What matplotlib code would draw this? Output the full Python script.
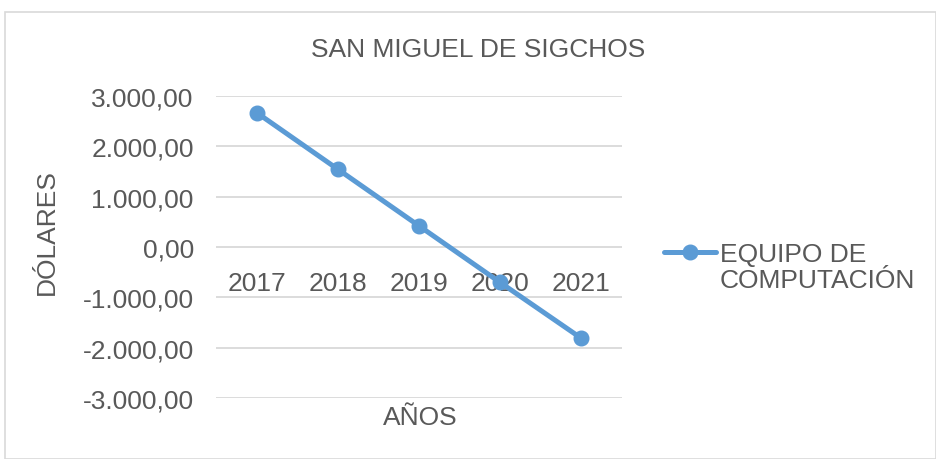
import matplotlib.pyplot as plt
from matplotlib.lines import Line2D
from matplotlib.patches import Rectangle
from matplotlib.ticker import FuncFormatter

years = ['2017', '2018', '2019', '2020', '2021']
equipo = [2670, 1545, 420, -705, -1815]
serie = 'EQUIPO DE\nCOMPUTACIÓN'

azul = '#5B9BD5'
gris = '#595959'
plt.rcParams['font.family'] = ['Liberation Sans', 'DejaVu Sans']
plt.rcParams['axes.unicode_minus'] = False

fig = plt.figure(figsize=(9.36, 4.6), dpi=100)
ax = fig.add_axes([216 / 936, 1 - 399 / 460, 406 / 936, 302 / 460])

x = list(range(len(years)))
ax.plot(x, equipo, color=azul, lw=3.6, marker='o', ms=10.5, solid_capstyle='round')

ax.set_xlim(-0.5, len(years) - 0.5)
ax.set_ylim(-3000, 3000)
ax.set_yticks(range(-3000, 3001, 1000))


def fmt(v, pos):
    s = f'{abs(v):,.2f}'.replace(',', 'X').replace('.', ',').replace('X', '.')
    return ('-' if v < 0 else '') + s


ax.yaxis.set_major_formatter(FuncFormatter(fmt))
ax.grid(axis='y', color='#D9D9D9', lw=1.3)
ax.set_axisbelow(True)
for s in ax.spines.values():
    s.set_visible(False)

# category labels sit under the zero line, like the source spreadsheet
ax.spines['bottom'].set_position(('data', 0))
ax.set_xticks(x)
ax.set_xticklabels(years)
ax.tick_params(axis='x', length=0, pad=17, labelsize=19, labelcolor=gris)
ax.tick_params(axis='y', length=0, pad=16, labelsize=19, labelcolor=gris)

fig.text(478 / 936, 1 - 50 / 460, 'SAN MIGUEL DE SIGCHOS', ha='center', va='center',
         fontsize=19, color=gris)
fig.text(47 / 936, 1 - 232 / 460, 'DÓLARES', rotation=90, ha='center', va='center',
         fontsize=19, color=gris)
fig.text(420 / 936, 1 - 418 / 460, 'AÑOS', ha='center', va='center', fontsize=19, color=gris)

# legend
fig.add_artist(Line2D([664 / 936, 716 / 936], [1 - 253 / 460] * 2, color=azul, lw=3.6,
                      solid_capstyle='round'))
fig.add_artist(Line2D([690 / 936], [1 - 253 / 460], color=azul, marker='o', ms=10.5))
fig.text(720 / 936, 1 - 268 / 460, serie, ha='left', va='center', fontsize=19, color=gris,
         linespacing=1.1)

fig.add_artist(Rectangle((5 / 936, 0), 931 / 936, 1 - 13 / 460, transform=fig.transFigure,
                         fill=False, edgecolor='#D9D9D9', lw=1.2))

fig.savefig('out.png', dpi=100)
